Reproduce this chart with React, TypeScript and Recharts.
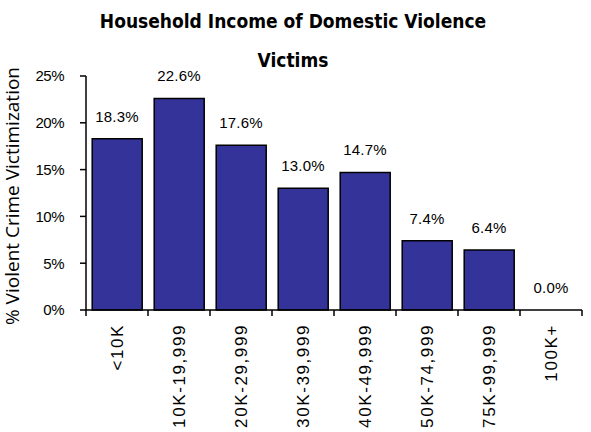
import React from "react";
import { ComposedChart, Bar, Line, XAxis, YAxis, LabelList } from "recharts";

const categories = ["<10K", "10K-19,999", "20K-29,999", "30K-39,999", "40K-49,999", "50K-74,999", "75K-99,999", "100K+"];
const values = [18.3, 22.6, 17.6, 13.0, 14.7, 7.4, 6.4, 0.0];
const yTicks = [0, 5, 10, 15, 20, 25];
const titleLines = ["Household Income of Domestic Violence", "Victims"];
const yAxisTitle = "% Violent Crime Victimization";

const data = categories.map((c, i) => ({ name: c, value: values[i] }));

const XTick = (props: any) => {
  const { x, y, payload, index } = props;
  const off = payload.offset || 0;
  const last = index === categories.length - 1;
  return (
    <g>
      <line x1={x - off} x2={x - off} y1={y - 8} y2={y - 2} stroke="#000" strokeWidth={1.5} />
      {last && <line x1={x + off} x2={x + off} y1={y - 8} y2={y - 2} stroke="#000" strokeWidth={1.5} />}
      <text
        x={x}
        y={y + 6}
        transform={`rotate(-90, ${x}, ${y + 6})`}
        textAnchor="end"
        dominantBaseline="central"
        fontFamily="'Liberation Sans', Arial, sans-serif"
        fontSize={17}
        letterSpacing={1.6}
        fill="#000"
      >
        {payload.value}
      </text>
    </g>
  );
};

export default function App() {
  return (
    <div style={{ position: "absolute", left: 0, top: 0, width: 591, height: 432, background: "#fff" }}>
      {titleLines.map((t, i) => (
        <div
          key={t}
          style={{
            position: "absolute",
            left: 0,
            width: 586,
            top: 12 + i * 39,
            height: 19,
            lineHeight: "19px",
            textAlign: "center",
            fontFamily: "'DejaVu Sans Condensed', 'DejaVu Sans', sans-serif",
            fontStretch: "condensed",
            fontWeight: "bold",
            fontSize: 19,
            color: "#000",
            whiteSpace: "nowrap",
          }}
        >
          {t}
        </div>
      ))}
      <div
        style={{
          position: "absolute",
          left: 12,
          top: 196,
          transform: "translate(-50%, -50%) rotate(-90deg)",
          whiteSpace: "nowrap",
          fontFamily: "'Open Sans', sans-serif",
          fontSize: 19,
          lineHeight: "19px",
          color: "#000",
        }}
      >
        {yAxisTitle}
      </div>
      <ComposedChart
        width={591}
        height={432}
        data={data}
        margin={{ top: 76, right: 9, bottom: 0, left: 0 }}
        barCategoryGap="10%"
      >
        <YAxis
          domain={[0, 25]}
          ticks={yTicks}
          width={86}
          tickFormatter={(v: number) => `${v}%`}
          tick={{ fill: "#000", fontSize: 15, fontFamily: "'Liberation Sans', Arial, sans-serif", letterSpacing: -0.5 }}
          tickSize={6}
          tickMargin={16}
          axisLine={{ stroke: "#000", strokeWidth: 1.5 }}
          tickLine={{ stroke: "#000", strokeWidth: 1.5 }}
          interval={0}
        />
        <XAxis
          dataKey="name"
          height={122}
          interval={0}
          tickLine={false}
          tick={<XTick />}
          axisLine={{ stroke: "#000", strokeWidth: 1.5 }}
        />
        <Bar dataKey="value" fill="#333399" stroke="#000" strokeWidth={1.5} isAnimationActive={false} />
        <Line
          dataKey="value"
          stroke="none"
          dot={false}
          activeDot={false}
          isAnimationActive={false}
        >
          <LabelList
            dataKey="value"
            position="top"
            offset={17}
            formatter={(v: number) => `${v.toFixed(1)}%`}
            style={{ fill: "#000", fontSize: 15, fontFamily: "'Liberation Sans', Arial, sans-serif", letterSpacing: 0.2 }}
          />
        </Line>
      </ComposedChart>
    </div>
  );
}
